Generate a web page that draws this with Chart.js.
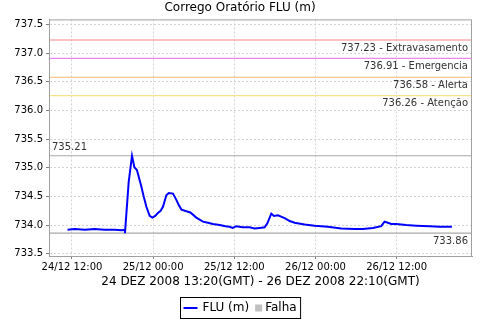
<!DOCTYPE html>
<html>
<head>
<meta charset="utf-8">
<script src="https://cdn.jsdelivr.net/npm/chart.js@4.4.0/dist/chart.umd.min.js"></script>
<style>
  body { margin: 0; background: #fff; }
  #wrap { width: 480px; height: 320px; }
</style>
</head>
<body>
<div id="wrap"><canvas id="myChart" width="480" height="320"></canvas></div>
<script>
// horas desde 24/12 00:00 (hora local), nivel em m
const horas = [11.33, 12.4, 13.9, 15.35, 16.8, 18.3, 19.35, 19.8, 19.83, 20.38, 20.87, 21.22, 21.6, 22.26, 22.6, 23.0,
  23.48, 23.88, 24.3, 24.7, 25.1, 25.45, 25.95, 26.3, 26.93, 27.43, 27.78, 28.18, 28.92, 29.5, 30.38, 31.36,
  32.1, 32.84, 33.83, 34.7, 35.3, 35.75, 36.3, 37.23, 38.26, 39.0, 39.74, 40.48, 40.88, 41.47, 41.86, 42.45,
  43.44, 44.18, 44.92, 46.4, 47.87, 49.83, 51.81, 53.78, 55.0, 56.48, 57.72, 58.21, 58.7, 59.2, 59.94, 61.42,
  62.9, 64.87, 66.35, 68.17];
const nivel = [733.92, 733.93, 733.92, 733.93, 733.92, 733.92, 733.91, 733.92, 733.86, 734.75, 735.21, 735.01, 734.96, 734.67, 734.5, 734.32,
  734.16, 734.13, 734.16, 734.21, 734.25, 734.32, 734.52, 734.56, 734.55, 734.44, 734.35, 734.27, 734.24, 734.22, 734.13, 734.06,
  734.04, 734.02, 734.0, 733.98, 733.97, 733.95, 733.98, 733.96, 733.96, 733.94, 733.95, 733.96, 734.03, 734.2, 734.16, 734.17,
  734.12, 734.07, 734.04, 734.01, 733.99, 733.97, 733.94, 733.93, 733.93, 733.95, 733.98, 734.06, 734.04, 734.02, 734.02, 734.0,
  733.99, 733.98, 733.97, 733.97];

const cotas = [737.23, 736.91, 736.58, 736.26];
const cotasNomes = ['Extravasamento', 'Emergencia', 'Alerta', 'Atenção'];
const cotasCores = ['#f58888', '#ec84ec', '#ffb870', '#f6e48c'];

const xTicks = [12, 24, 36, 48, 60];
const xTickLabels = ['24/12 12:00', '25/12 00:00', '25/12 12:00', '26/12 00:00', '26/12 12:00'];

const xMin = 8.6, xMax = 71.14;
const yMin = 733.46, yMax = 737.59;

const maximo = Math.max(...nivel);
const minimo = Math.min(...nivel);

const fonte = 'DejaVu Sans';

const datasets = [{
  label: 'FLU (m)',
  data: horas.map((h, i) => ({ x: h, y: nivel[i] })),
  borderColor: '#0000ff',
  borderWidth: 2,
  pointRadius: 0,
  tension: 0,
  order: 0
}];
cotas.forEach((c, i) => {
  datasets.push({
    label: c.toFixed(2) + ' - ' + cotasNomes[i],
    data: [{ x: xMin, y: c }, { x: xMax, y: c }],
    borderColor: cotasCores[i],
    borderWidth: 1.2,
    pointRadius: 0,
    order: 5
  });
});
[maximo, minimo].forEach(c => {
  datasets.push({
    label: c.toFixed(2),
    data: [{ x: xMin, y: c }, { x: xMax, y: c }],
    borderColor: '#a8a8a8',
    borderWidth: 1.2,
    pointRadius: 0,
    order: 5
  });
});

const moldura = {
  id: 'moldura',
  afterDatasetsDraw: (chart) => {
    const ctx = chart.ctx;
    const a = chart.chartArea;
    const ys = chart.scales.y;
    ctx.save();
    ctx.strokeStyle = '#a0a0a0';
    ctx.lineWidth = 1;
    ctx.strokeRect(a.left + 0.5, a.top + 0.5, a.right - a.left - 1, a.bottom - a.top);
    ctx.font = '10px ' + fonte;
    ctx.fillStyle = '#333';
    ctx.textBaseline = 'middle';
    ctx.textAlign = 'right';
    cotas.forEach((c, i) => {
      ctx.fillText(c.toFixed(2) + ' - ' + cotasNomes[i], a.right - 4, ys.getPixelForValue(c) + 8);
    });
    ctx.fillText(minimo.toFixed(2), a.right - 4, ys.getPixelForValue(minimo) + 8);
    ctx.textAlign = 'left';
    ctx.fillText(maximo.toFixed(2), a.left + 3, ys.getPixelForValue(maximo) - 8);
    ctx.restore();
  },
  afterDraw: (chart) => {
    // legenda com caixa
    const ctx = chart.ctx;
    ctx.save();
    ctx.font = '12px ' + fonte;
    const t1 = 'FLU (m)', t2 = 'Falha';
    const w = 4 + 14 + 5 + ctx.measureText(t1).width + 6 + 7 + 3 + ctx.measureText(t2).width + 3;
    const x0 = Math.round(240 - w / 2) + 0.5, y0 = 297.5, h = 21;
    ctx.strokeStyle = '#000';
    ctx.lineWidth = 1;
    ctx.strokeRect(x0, y0, w, h);
    const cy = y0 + h / 2;
    ctx.strokeStyle = '#0000ff';
    ctx.lineWidth = 2;
    ctx.beginPath();
    ctx.moveTo(x0 + 3, cy);
    ctx.lineTo(x0 + 17, cy);
    ctx.stroke();
    ctx.fillStyle = '#000';
    ctx.textBaseline = 'middle';
    ctx.textAlign = 'left';
    let x = x0 + 22;
    ctx.fillText(t1, x, cy);
    x += ctx.measureText(t1).width + 6;
    ctx.fillStyle = '#c0c0c0';
    ctx.fillRect(x, cy - 3.5, 7, 7);
    x += 10;
    ctx.fillStyle = '#000';
    ctx.fillText(t2, x, cy);
    ctx.restore();
  }
};

const ctx = document.getElementById('myChart').getContext('2d');
const myChart = new Chart(ctx, {
  type: 'line',
  data: { datasets: datasets },
  plugins: [moldura],
  options: {
    responsive: false,
    animation: false,
    layout: { padding: { left: 8, right: 8, top: 0, bottom: 30 } },
    plugins: {
      legend: { display: false },
      tooltip: { enabled: false },
      title: {
        display: true,
        text: 'Corrego Oratório FLU (m)',
        color: '#000',
        font: { family: fonte, size: 12, weight: 'normal' },
        padding: { top: 1, bottom: 4 }
      }
    },
    scales: {
      x: {
        type: 'linear',
        min: xMin,
        max: xMax,
        afterBuildTicks: (s) => { s.ticks = xTicks.map(v => ({ value: v })); },
        afterFit: (s) => { s.height = 34; },
        ticks: {
          color: '#000',
          font: { family: fonte, size: 10 },
          padding: 2,
          maxRotation: 0,
          callback: (v) => xTickLabels[xTicks.indexOf(v)]
        },
        grid: { color: '#d4d4d4', tickLength: 3, tickColor: '#808080', tickBorderDash: [] },
        border: { color: '#a0a0a0', dash: [2, 2] },
        title: {
          display: true,
          text: '24 DEZ 2008 13:20(GMT) - 26 DEZ 2008 22:10(GMT)',
          color: '#000',
          font: { family: fonte, size: 12 },
          padding: { top: 0, bottom: 1 }
        }
      },
      y: {
        min: yMin,
        max: yMax,
        afterBuildTicks: (s) => {
          const t = [];
          for (let v = 733.5; v <= 737.5; v += 0.5) t.push({ value: v });
          s.ticks = t;
        },
        afterFit: (s) => { s.width = 41; },
        ticks: {
          color: '#000',
          font: { family: fonte, size: 10 },
          padding: 3,
          callback: (v) => v.toFixed(1)
        },
        grid: { color: '#d4d4d4', tickLength: 3, tickColor: '#808080', tickBorderDash: [] },
        border: { color: '#a0a0a0', dash: [2, 2] }
      }
    }
  }
});
</script>
</body>
</html>
